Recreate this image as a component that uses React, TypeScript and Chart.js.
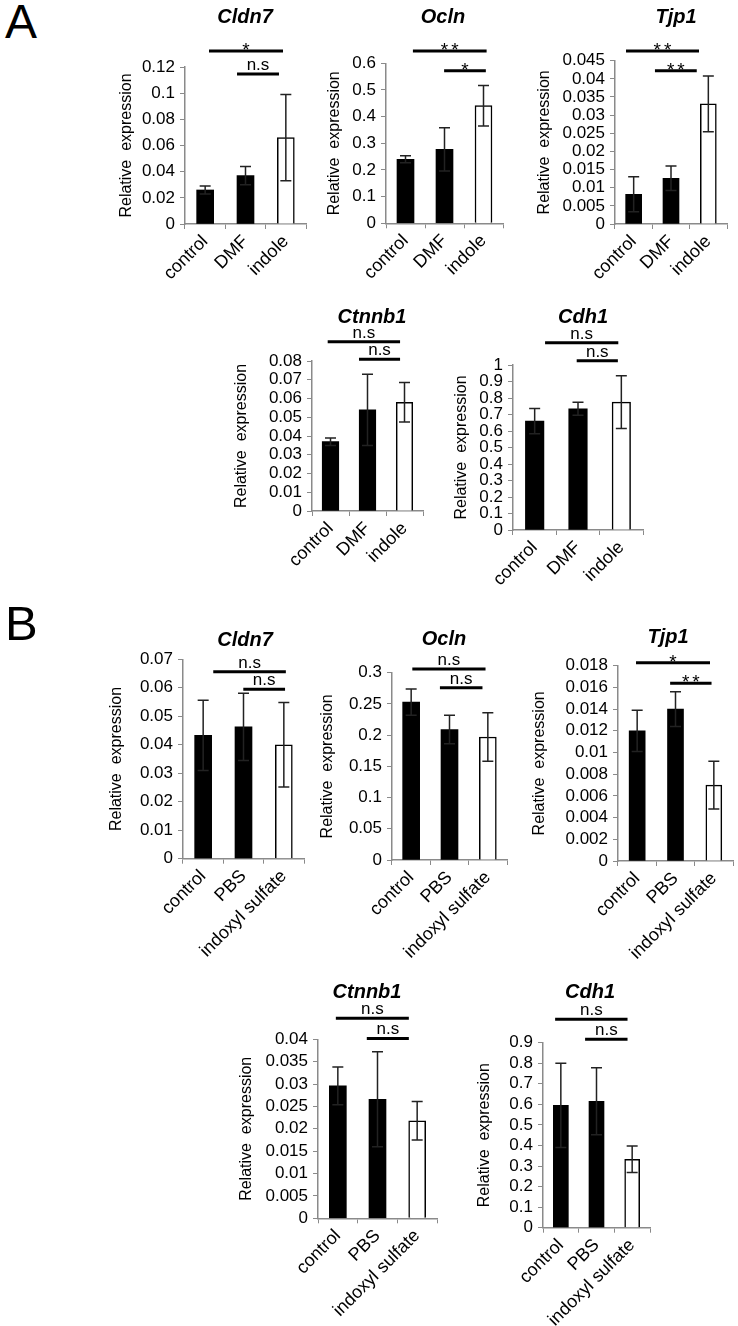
import React, { useEffect, useRef } from "react";
import { Chart, registerables } from "chart.js";
Chart.register(...registerables);

// ---------- categories ----------
const groupsA = ["control", "DMF", "indole"];
const groupsB = ["control", "PBS", "indoxyl sulfate"];

// ---------- series values (mean, SD) ----------
const A_Cldn7_mean = [0.026, 0.037, 0.066];
const A_Cldn7_sd = [0.003, 0.007, 0.033];
const A_Ocln_mean = [0.24, 0.277, 0.441];
const A_Ocln_sd = [0.013, 0.081, 0.076];
const A_Tjp1_mean = [0.0082, 0.0126, 0.0331];
const A_Tjp1_sd = [0.0048, 0.0034, 0.0077];
const A_Ctnnb1_mean = [0.037, 0.054, 0.058];
const A_Ctnnb1_sd = [0.002, 0.019, 0.0105];
const A_Cdh1_mean = [0.66, 0.735, 0.775];
const A_Cdh1_sd = [0.077, 0.04, 0.16];

const B_Cldn7_mean = [0.0433, 0.0463, 0.04];
const B_Cldn7_sd = [0.0123, 0.0118, 0.0148];
const B_Ocln_mean = [0.253, 0.209, 0.197];
const B_Ocln_sd = [0.021, 0.023, 0.039];
const B_Tjp1_mean = [0.012, 0.014, 0.007];
const B_Tjp1_sd = [0.0019, 0.0016, 0.0022];
const B_Ctnnb1_mean = [0.0296, 0.0266, 0.0218];
const B_Ctnnb1_sd = [0.0042, 0.0106, 0.0043];
const B_Cdh1_mean = [0.595, 0.615, 0.333];
const B_Cdh1_sd = [0.205, 0.163, 0.065];

// ---------- y tick settings (max, step) ----------
const yMaxA = [0.12, 0.6, 0.045, 0.08, 1];
const yStepA = [0.02, 0.1, 0.005, 0.01, 0.1];
const yMaxB = [0.07, 0.3, 0.018, 0.04, 0.9];
const yStepB = [0.01, 0.05, 0.002, 0.005, 0.1];

// ---------- significance annotations: [label, fromCategory, toCategory, level] ----------
const A_Cldn7_sig = [["*", 0.095, 1.93, 0.1322], ["n.s", 0.79, 1.83, 0.1146]];
const A_Ocln_sig = [["**", 0.19, 2.08, 0.646], ["*", 0.99, 2.06, 0.572]];
const A_Tjp1_sig = [["**", -0.205, 1.75, 0.04767], ["**", 0.57, 1.69, 0.04224]];
const A_Ctnnb1_sig = [["n.s", -0.076, 1.88, 0.0903], ["n.s", 0.77, 1.88, 0.0809]];
const A_Cdh1_sig = [["n.s", 0.24, 1.93, 1.135], ["n.s", 0.97, 1.92, 1.026]];
const B_Cldn7_sig = [["n.s", 0.25, 2.05, 0.0656], ["n.s", 0.995, 2.03, 0.0595]];
const B_Ocln_sig = [["n.s", 0.03, 1.94, 0.306], ["n.s", 0.75, 1.86, 0.276]];
const B_Tjp1_sig = [["*", -0.03, 1.9, 0.01828], ["**", 0.86, 1.94, 0.01638]];
const B_Ctnnb1_sig = [["n.s", -0.05, 1.79, 0.0447], ["n.s", 0.73, 1.79, 0.0402]];
const B_Cdh1_sig = [["n.s", -0.16, 1.87, 1.014], ["n.s", 0.68, 1.87, 0.9165]];

// ---------- layout (page pixels): plot box, title centre, y-title centre x, bar width ----------
type Lay = { L: number; R: number; T: number; B: number; tx: number; ty: number; yx: number; bw: number };
const LAYOUT: Lay[] = [
  { L: 185, R: 306, T: 67, B: 224, tx: 245, ty: 17, yx: 127, bw: 17 },
  { L: 386, R: 503, T: 63.3, B: 223.3, tx: 443, ty: 17, yx: 335, bw: 17 },
  { L: 615, R: 727, T: 60.7, B: 224, tx: 676, ty: 17, yx: 545, bw: 16 },
  { L: 312, R: 423, T: 361, B: 511, tx: 372, ty: 317, yx: 242, bw: 16.5 },
  { L: 513, R: 643, T: 365, B: 530, tx: 583, ty: 317, yx: 462, bw: 18.5 },
  { L: 183, R: 304, T: 659.3, B: 858.7, tx: 245, ty: 640, yx: 117, bw: 17 },
  { L: 392, R: 507, T: 672.7, B: 860, tx: 444, ty: 639, yx: 328, bw: 17 },
  { L: 618, R: 733, T: 665.7, B: 861, tx: 668, ty: 637, yx: 540, bw: 16 },
  { L: 318, R: 437, T: 1039.3, B: 1218.3, tx: 367, ty: 992, yx: 247, bw: 17 },
  { L: 543, R: 650, T: 1042.7, B: 1227.7, tx: 590, ty: 992, yx: 485, bw: 15 },
];

const PANELS = [
  { title: "Cldn7", groups: groupsA, mean: A_Cldn7_mean, sd: A_Cldn7_sd, yMax: yMaxA[0], yStep: yStepA[0], sig: A_Cldn7_sig },
  { title: "Ocln", groups: groupsA, mean: A_Ocln_mean, sd: A_Ocln_sd, yMax: yMaxA[1], yStep: yStepA[1], sig: A_Ocln_sig },
  { title: "Tjp1", groups: groupsA, mean: A_Tjp1_mean, sd: A_Tjp1_sd, yMax: yMaxA[2], yStep: yStepA[2], sig: A_Tjp1_sig },
  { title: "Ctnnb1", groups: groupsA, mean: A_Ctnnb1_mean, sd: A_Ctnnb1_sd, yMax: yMaxA[3], yStep: yStepA[3], sig: A_Ctnnb1_sig },
  { title: "Cdh1", groups: groupsA, mean: A_Cdh1_mean, sd: A_Cdh1_sd, yMax: yMaxA[4], yStep: yStepA[4], sig: A_Cdh1_sig },
  { title: "Cldn7", groups: groupsB, mean: B_Cldn7_mean, sd: B_Cldn7_sd, yMax: yMaxB[0], yStep: yStepB[0], sig: B_Cldn7_sig },
  { title: "Ocln", groups: groupsB, mean: B_Ocln_mean, sd: B_Ocln_sd, yMax: yMaxB[1], yStep: yStepB[1], sig: B_Ocln_sig },
  { title: "Tjp1", groups: groupsB, mean: B_Tjp1_mean, sd: B_Tjp1_sd, yMax: yMaxB[2], yStep: yStepB[2], sig: B_Tjp1_sig },
  { title: "Ctnnb1", groups: groupsB, mean: B_Ctnnb1_mean, sd: B_Ctnnb1_sd, yMax: yMaxB[3], yStep: yStepB[3], sig: B_Ctnnb1_sig },
  { title: "Cdh1", groups: groupsB, mean: B_Cdh1_mean, sd: B_Cdh1_sd, yMax: yMaxB[4], yStep: yStepB[4], sig: B_Cdh1_sig },
];

const FONT = "'Liberation Sans', Arial, sans-serif";
const AXIS_COLOR = "#8a8a8a";
const BAR_FILLS = ["#000000", "#000000", "#ffffff"];

function boxOf(l: Lay) {
  const x = Math.floor(l.yx - 14);
  const y = Math.floor(l.ty - 16);
  const w = Math.ceil(l.R + 8) - x;
  const h = Math.ceil(l.B + 115) - y;
  return { x, y, w, h };
}

function Panel({ p, l }: { p: any; l: Lay }) {
  const ref = useRef<HTMLCanvasElement>(null);
  const box = boxOf(l);
  useEffect(() => {
    if (!ref.current) return;
    const deco = {
      id: "deco",
      afterDatasetsDraw(chart: any) {
        const ctx = chart.ctx;
        const ys = chart.scales.y;
        const meta = chart.getDatasetMeta(0);
        ctx.save();
        ctx.strokeStyle = "#222";
        ctx.lineWidth = 1.5;
        p.mean.forEach((m: number, i: number) => {
          const x = meta.data[i].x;
          const yt = ys.getPixelForValue(m + p.sd[i]);
          const yb = ys.getPixelForValue(Math.max(0, m - p.sd[i]));
          ctx.beginPath();
          ctx.moveTo(x, yt);
          ctx.lineTo(x, yb);
          ctx.moveTo(x - 5.5, yt);
          ctx.lineTo(x + 5.5, yt);
          ctx.moveTo(x - 5.5, yb);
          ctx.lineTo(x + 5.5, yb);
          ctx.stroke();
        });
        ctx.restore();
      },
      afterDraw(chart: any) {
        const ctx = chart.ctx;
        const xs = chart.scales.x;
        const ys = chart.scales.y;
        ctx.save();
        // significance bars
        p.sig.forEach((s: any[]) => {
          const x1 = xs.getPixelForValue(s[1]);
          const x2 = xs.getPixelForValue(s[2]);
          const y = ys.getPixelForValue(s[3]);
          ctx.strokeStyle = "#000";
          ctx.lineWidth = 3;
          ctx.beginPath();
          ctx.moveTo(x1, y);
          ctx.lineTo(x2, y);
          ctx.stroke();
          ctx.fillStyle = "#000";
          ctx.textAlign = "center";
          ctx.textBaseline = "alphabetic";
          const star = String(s[0]).includes("*");
          ctx.font = star ? `19px ${FONT}` : `17px ${FONT}`;
          (ctx as any).letterSpacing = star ? "3px" : "0px";
          ctx.fillText(String(s[0]), (x1 + x2) / 2 + (star ? 1.5 : 0), star ? y + 5 : y - 4);
        });
        (ctx as any).letterSpacing = "0px";
        // title
        ctx.fillStyle = "#000";
        ctx.font = `italic bold 20px ${FONT}`;
        ctx.textAlign = "center";
        ctx.textBaseline = "middle";
        ctx.fillText(p.title, l.tx - box.x, l.ty - box.y);
        // y axis title
        ctx.font = `16px ${FONT}`;
        ctx.translate(l.yx - box.x, (l.T + l.B) / 2 - box.y);
        ctx.rotate(-Math.PI / 2);
        ctx.fillText("Relative  expression", 0, 0);
        ctx.restore();
      },
    };
    const chart = new Chart(ref.current, {
      type: "bar",
      data: {
        labels: p.groups,
        datasets: [
          {
            data: p.mean,
            backgroundColor: BAR_FILLS,
            borderColor: "#000",
            borderWidth: [0, 0, 1.5],
            barThickness: l.bw,
          },
        ],
      },
      options: {
        responsive: false,
        animation: false,
        events: [],
        layout: {
          padding: { top: l.T - box.y, right: box.x + box.w - l.R, left: 0, bottom: 0 },
        },
        plugins: { legend: { display: false }, tooltip: { enabled: false }, title: { display: false } },
        scales: {
          x: {
            offset: true,
            grid: { display: true, drawOnChartArea: false, drawTicks: true, tickLength: 5, color: AXIS_COLOR, offset: true },
            border: { display: true, color: AXIS_COLOR, width: 1.5 },
            ticks: {
              autoSkip: false,
              minRotation: 45,
              maxRotation: 45,
              color: "#000",
              padding: 2,
              font: { family: FONT, size: 18 },
            },
            afterFit: (s: any) => {
              s.height = box.y + box.h - l.B;
            },
          },
          y: {
            min: 0,
            max: p.yMax,
            grid: { display: true, drawOnChartArea: false, drawTicks: true, tickLength: 5, color: AXIS_COLOR },
            border: { display: true, color: AXIS_COLOR, width: 1.5 },
            ticks: {
              autoSkip: false,
              color: "#000",
              padding: 5,
              font: { family: FONT, size: 17, lineHeight: 1 },
              callback: (v: any) => String(parseFloat(Number(v).toFixed(6))),
            },
            afterBuildTicks: (s: any) => {
              const n = Math.round(p.yMax / p.yStep);
              const t = [];
              for (let k = 0; k <= n; k++) t.push({ value: parseFloat((k * p.yStep).toFixed(6)) });
              s.ticks = t;
            },
            afterFit: (s: any) => {
              s.width = l.L - box.x;
            },
          },
        },
      },
      plugins: [deco],
    });
    return () => chart.destroy();
  }, []);
  return (
    <canvas
      ref={ref}
      width={box.w}
      height={box.h}
      style={{ position: "absolute", left: box.x, top: box.y, width: box.w, height: box.h }}
    />
  );
}

export default function App() {
  return (
    <div
      style={{
        position: "absolute",
        left: 0,
        top: 0,
        width: 738,
        height: 1326,
        overflow: "hidden",
        background: "#fff",
        fontFamily: FONT,
      }}
    >
      <div style={{ position: "absolute", left: 5, top: -2, fontSize: 48, lineHeight: "48px", color: "#000" }}>A</div>
      <div style={{ position: "absolute", left: 5, top: 599, fontSize: 49, lineHeight: "49px", color: "#000" }}>B</div>
      {PANELS.map((p, i) => (
        <Panel key={i} p={p} l={LAYOUT[i]} />
      ))}
    </div>
  );
}
